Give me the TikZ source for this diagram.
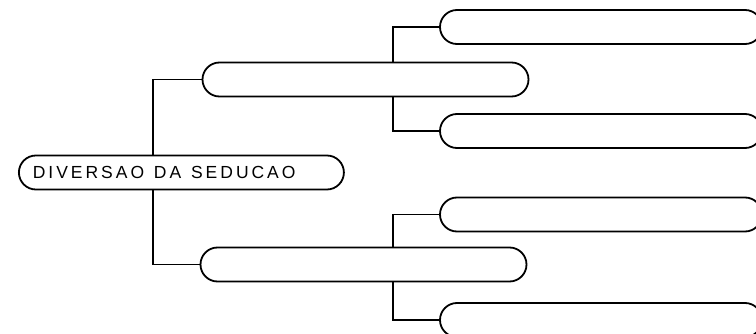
\documentclass[tikz,border=0pt]{standalone}
\usepackage{fontspec}
\newfontfamily\diagfont[LetterSpace=17]{Liberation Sans}
\usetikzlibrary{backgrounds}
\tikzset{
  pill/.style={draw, line width=1.8pt, fill=white, rounded corners=17pt,
    minimum height=34pt, inner sep=0pt},
  midpill/.style={pill, minimum width=326pt},
  leafpill/.style={pill, minimum width=322pt},
  link/.style={line width=1.8pt}
}
\newcommand{\gap}{\hspace{4pt} }
\begin{document}
\begin{tikzpicture}[x=1pt, y=-1pt]
    \useasboundingbox (0,0) rectangle (756,334);
    \clip (0,0) rectangle (756,334);

    % Root
    \node[pill, anchor=west, text width=297pt, inner xsep=14pt,
      font=\diagfont\fontsize{17.5}{20}\selectfont] (root) at (18,172.5)
      {DIVERSAO\gap DA\gap SEDUCAO};

    % Second level
    \node[midpill] (upper) at (365.5,79.5) {};
    \node[midpill] (lower) at (363.5,264.5) {};

    % Leaves
    \node[leafpill] (leafA) at (601,27) {};
    \node[leafpill] (leafB) at (601,131) {};
    \node[leafpill] (leafC) at (601,214.5) {};
    \node[leafpill] (leafD) at (601,320) {};

    % Forks
    \coordinate (trunk) at (153,172.5);
    \coordinate (forkup) at (393,79.5);
    \coordinate (forklow) at (393,264.5);

    \begin{scope}[on background layer]
        \draw[link] (upper.west) -| (trunk) |- (lower.west);
        \draw[link] (leafA.west) -| (forkup) |- (leafB.west);
        \draw[link] (leafC.west) -| (forklow) |- (leafD.west);
    \end{scope}
\end{tikzpicture}
\end{document}
